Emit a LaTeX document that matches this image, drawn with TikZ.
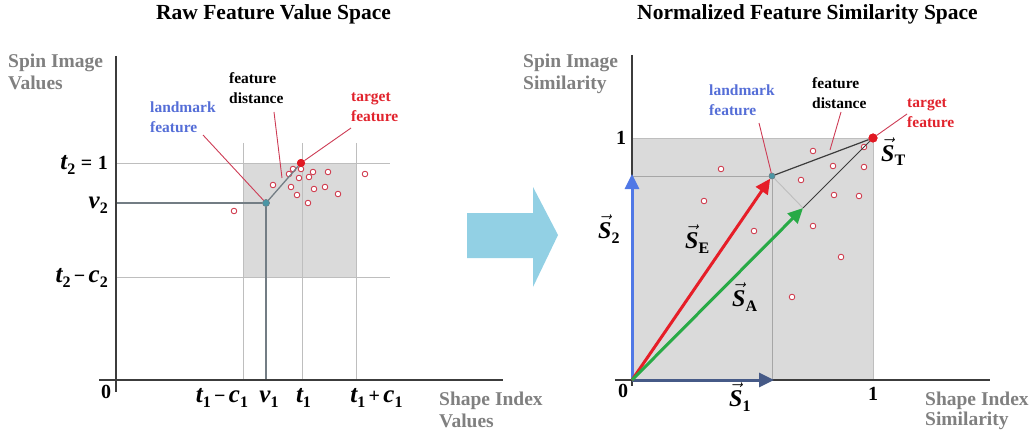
\documentclass[tikz,border=0pt]{standalone}
\usepackage{fontspec}
\setmainfont{Liberation Serif}
\usetikzlibrary{arrows.meta}
\definecolor{gridgray}{RGB}{190,190,190}
\definecolor{boxgray}{RGB}{218,218,218}
\definecolor{axisgray}{RGB}{60,60,60}
\definecolor{refgray}{RGB}{115,125,132}
\definecolor{leadred}{RGB}{205,60,85}
\definecolor{sampred}{RGB}{205,45,65}
\definecolor{dotred}{RGB}{225,25,35}
\definecolor{dotteal}{RGB}{75,150,165}
\definecolor{labgray}{RGB}{128,128,128}
\definecolor{labblue}{RGB}{85,110,215}
\definecolor{labred}{RGB}{225,35,45}
\definecolor{bigarrow}{RGB}{146,208,228}
\definecolor{vblue}{RGB}{80,120,230}
\definecolor{vslate}{RGB}{70,90,135}
\definecolor{vred}{RGB}{230,30,40}
\definecolor{vgreen}{RGB}{40,170,70}
\newcommand\fsz[1]{\fontsize{#1}{#1}\selectfont}
\newcommand\mvar[2]{{\fsz{25}\bfseries\itshape #1}\raisebox{-5pt}{\fsz{16}\bfseries #2}}
\newcommand\vecS[1]{{\fsz{24}$\vec{\hbox{\bfseries\itshape S}}$}\raisebox{-5pt}{\fsz{16}\bfseries #1}}
\begin{document}
\begin{tikzpicture}[x=1pt,y=-1pt,
  gridline/.style={draw=gridgray,line width=0.9pt},
  axisline/.style={draw=axisgray,line width=1.4pt},
  refline/.style={draw=refgray,line width=1.1pt},
  leader/.style={draw=leadred,line width=0.9pt},
  sample/.style={circle,draw=sampred,fill=white,line width=0.8pt,minimum size=5.6pt,inner sep=0pt},
  lmdot/.style={circle,fill=dotteal,draw=refgray,line width=0.4pt,minimum size=7pt,inner sep=0pt},
  tgdot/.style={circle,fill=dotred,minimum size=8pt,inner sep=0pt},
  title/.style={font=\fsz{21.5}\bfseries,anchor=base,inner sep=0pt},
  axlab/.style={font=\fsz{19.5}\bfseries,text=labgray,align=left,anchor=west,inner sep=0pt},
  featlab/.style={font=\fontsize{15.5}{20}\selectfont\bfseries,align=left,anchor=west,inner sep=0pt},
  ticklab/.style={font=\fsz{20}\bfseries,inner sep=0pt},
  vec/.style={line width=3pt,-{Triangle[length=15pt,width=14pt]}}
]
\useasboundingbox (0,0) rectangle (1031,433);

% ---------------- titles
\node[title] (t1) at (273.5,20) {Raw Feature Value Space};
\node[title] (t2) at (807.5,20) {Normalized Feature Similarity Space};

% ---------------- left panel
\fill[boxgray] (243,163) rectangle (356,277);
\draw[gridline] (116,163) -- (390,163);
\draw[gridline] (116,277) -- (390,277);
\draw[gridline] (243,143) -- (243,380);
\draw[gridline] (302,143) -- (302,380);
\draw[gridline] (356,143) -- (356,380);
\node[lmdot] (L1) at (266,203) {};
\node[tgdot] (T1) at (301,163) {};
\coordinate (v2a) at (116,203);
\coordinate (v1a) at (266,380);
\draw[refline] (v2a) -- (L1);
\draw[refline] (v1a) -- (L1);
\draw[axisline] (116,56) -- (116,392);
\draw[axisline] (99,380) -- (503,380);

\foreach \x/\y [count=\i] in {234/211,273/185,289/174,293/169,301/169,313/172,328/172,299/178,309/177,291/187,314/189,325/187,297/195,338/194,308/203,365/174}
  \node[sample] (ls\i) at (\x,\y) {};
\draw[refline,line width=1.3pt] (L1) -- (T1);
\node[lmdot] at (L1) {};
\node[tgdot] at (T1) {};

\node[axlab] (ly) at (8,72) {Spin Image\\[3pt]Values};
\node[axlab] (lx) at (439,410) {Shape Index\\[3pt]Values};
\node[featlab,text=labblue] (lml) at (150,117) {landmark\\feature};
\node[featlab,text=black] (fdl) at (229,88) {feature\\distance};
\node[featlab,text=labred] (tgl) at (351,107) {target\\feature};
\coordinate (lmlA) at (203,135);
\coordinate (fdlA) at (274,112);
\coordinate (fdlB) at (282,178);
\coordinate (tglA) at (351,128);
\draw[leader] (lmlA) -- (L1);
\draw[leader] (fdlA) -- (fdlB);
\draw[leader] (tglA) -- (T1);

\node[ticklab,anchor=base east] (y1) at (108,170) {\mvar{t}{2}\;=\;1};
\node[ticklab,anchor=base east] (y2) at (108,208) {\mvar{v}{2}};
\node[ticklab,anchor=base east] (y3) at (108,282) {\mvar{t}{2}\,\textminus\,\mvar{c}{2}};
\node[ticklab,anchor=base] (x1) at (222,402) {\mvar{t}{1}\,\textminus\,\mvar{c}{1}};
\node[ticklab,anchor=base] (x2) at (269,402) {\mvar{v}{1}};
\node[ticklab,anchor=base] (x3) at (303.5,402) {\mvar{t}{1}};
\node[ticklab,anchor=base] (x4) at (376.5,402) {\mvar{t}{1}\,+\,\mvar{c}{1}};
\node[ticklab,anchor=base] (zl) at (106,398) {0};

% ---------------- big arrow
\fill[bigarrow] (467,213) -- (533,213) -- (533,187) -- (558,235) -- (533,287) -- (533,258) -- (467,258) -- cycle;

% ---------------- right panel
\fill[boxgray] (632,138) rectangle (873,380);
\draw[gridline] (632,138) -- (873,138) -- (873,380);
\coordinate (O) at (632,380);
\node[lmdot,minimum size=6pt] (L2) at (772,176) {};
\node[tgdot,minimum size=9pt] (T2) at (873,138) {};
\coordinate (G) at (803,208);
\coordinate (hl) at (632,176);
\coordinate (vl) at (772,380);
\draw[gridline,draw=gray!70] (hl) -- (L2);
\draw[gridline,draw=gray!70] (vl) -- (L2);
\draw[gridline] (L2) -- (G);
\draw[axisline] (632,55) -- (632,386);
\draw[axisline] (615,380) -- (990,380);

\foreach \x/\y [count=\i] in {813/151,864/147,721/169,833/166,864/167,801/180,704/201,834/195,859/196,754/231,813/226,841/257,792/297}
  \node[sample] (rs\i) at (\x,\y) {};

\coordinate (S2tip) at (632,174);
\coordinate (S1tip) at (774,380);
\draw[vec,vblue] (O) -- (S2tip);
\draw[vec,vslate] (O) -- (S1tip);
\draw[vec,vred] (O) -- (L2);
\draw[vec,vgreen] (O) -- (G);
\draw[draw=axisgray,line width=1pt] (G) -- (T2);
\draw[draw=axisgray,line width=1.2pt] (L2) -- (T2);
\node[lmdot,minimum size=6pt] at (L2) {};
\node[tgdot,minimum size=9pt] at (T2) {};

\node[axlab] (ry) at (523,74) {Spin Image\\[2pt]Similarity};
\node[axlab] (rx) at (925,411) {Shape Index\\Similarity};
\node[featlab,text=labblue] (lmr) at (709,100) {landmark\\feature};
\node[featlab,text=black] (fdr) at (812,93) {feature\\distance};
\node[featlab,text=labred] (tgr) at (907,113.5) {target\\feature};
\coordinate (lmrA) at (759,123);
\coordinate (fdrA) at (841,112);
\coordinate (fdrB) at (830,150);
\coordinate (tgrA) at (907,114);
\draw[leader] (lmrA) -- (L2);
\draw[leader] (fdrA) -- (fdrB);
\draw[leader] (tgrA) -- (T2);

\node[ticklab,anchor=base] (r1y) at (621,145) {1};
\node[ticklab,anchor=base] (r0) at (623,397) {0};
\node[ticklab,anchor=base] (r1x) at (873,400) {1};
\node[anchor=base west,inner sep=0pt] (vs2) at (598,238) {\vecS{2}};
\node[anchor=base west,inner sep=0pt] (vse) at (685,248) {\vecS{E}};
\node[anchor=base west,inner sep=0pt] (vsa) at (732,306) {\vecS{A}};
\node[anchor=base west,inner sep=0pt] (vs1) at (729,406) {\vecS{1}};
\node[anchor=base west,inner sep=0pt] (vst) at (881,161) {\vecS{T}};
\end{tikzpicture}
\end{document}
